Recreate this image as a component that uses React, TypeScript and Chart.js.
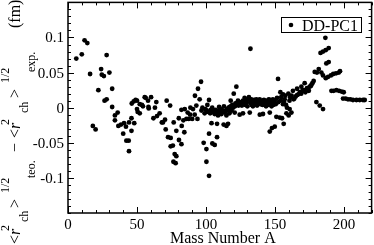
import React, { useEffect, useRef } from "react";
import { Chart, registerables } from "chart.js";

Chart.register(...registerables);

// Mass number A of each nucleus
const massNumber: number[] = [
  6, 10, 12, 14, 16, 18, 20, 22, 24, 24.5, 26, 26.5, 28, 28, 30, 32, 32, 34, 34, 36, 36.5,
  38.4, 40, 40.6, 42, 42.3, 44, 44.2, 44.2, 46, 46, 46.2, 47.6, 48, 49, 50, 50, 50.5, 52, 52, 53.6,
  54.3, 55.6, 56.3, 58, 58.3, 58.5, 60.2,
  61.9, 63, 64, 64.5, 66.4, 68, 68.8, 70.3, 70.8, 71.5, 72.5, 74, 74.4, 74.4, 76, 76.6, 76.4,
  77.3, 78, 78.5, 78.5, 80.3, 80.4, 82.2, 82.2, 82.4, 83.6, 84.3, 84.6, 85.8, 86.7, 87.5, 88.5,
  88.7, 90, 90.6, 91.8, 92, 93, 93.8, 94.2, 95.4, 96.4, 96.7, 97.4, 98.3, 99, 99.5, 100.3, 100.3,
  100.5, 101, 101.5, 102.2, 102.2, 102.2, 103, 103.5, 104, 104.5, 104.6, 105, 105.5, 106.3, 106.3,
  107, 107.5, 108, 108, 108.7, 109, 109.5, 110, 110.5, 111, 111.2, 112, 112.8, 113, 113.6, 114.8,
  114.8, 115, 116, 116, 116.4, 117, 117.2, 117.9, 118.5, 119, 119.6, 120.1, 120.8, 121, 121.6, 122,
  122.5, 123.2, 123.5, 124.4, 124.9, 125.5, 126, 126.8, 126.8, 127.5, 128, 128.5, 129, 129.7, 130,
  130.5, 131.1, 131.7, 132, 132.2, 132.9, 133, 134, 134.1, 135, 135.5, 136, 136.5, 137, 137.7, 138,
  138.9, 139, 139.5, 140, 140.9, 141, 141.3, 142, 142.5, 143, 143.5, 144.2, 144.5, 145, 145.5,
  146.2, 146.2, 146.2, 147, 147.5, 147.8, 148.1, 148.5, 149, 149.8, 149.8, 150.5, 151, 151.5, 152.2,
  152.5, 153.4, 153.9, 153.9, 154.5, 155.1, 155.8, 155.8, 156.3, 156.5, 157, 157.5, 158, 158.3,
  158.7, 159.7, 159.9, 160.5, 160.6, 161, 161.9, 162, 163, 163.5, 164, 165, 166, 166, 167, 168,
  169, 169.1, 170, 171, 171.5, 172, 173.2, 174, 174.5, 175.1, 176, 176.5, 177.1, 178, 178.8, 180,
  180.4, 181.7, 182.4, 183, 183.6, 184.8, 184.8, 184.8, 186.5, 186.7, 186.8, 187.2, 188.5, 188.9,
  188.9, 190.5, 190.9, 192.2, 192.5, 194.2, 194.5, 196.2, 196.4, 197.1, 198.3, 199.3, 199.8, 201.2,
  202.9, 204.6, 206.5, 209, 211.4, 213.8, 215,
  106, 111.5, 114, 118, 121.3, 124, 127, 133.5, 137.5, 141.8, 144, 148.8,
];

// <r^2_ch>^1/2 (theory) - <r^2_ch>^1/2 (experiment), in fm
const deltaRadius: number[] = [
  0.070, 0.076, 0.096, 0.092, 0.048, -0.026, -0.031, 0.025, 0.055, 0.047, 0.045, 0.010, 0.075, 0.012, 0.050, 0.027, 0.001, -0.011, -0.018, -0.007, -0.026,
  -0.024, -0.037, -0.022, -0.027, -0.047, -0.047, -0.062, -0.021, -0.033, -0.015, 0.006, 0.009, -0.022, 0.011, 0.010, -0.002, -0.006, -0.008, 0.005, 0.004,
  0.002, 0.015, 0.014, 0.010, 0.001, -0.001, 0.015,
  -0.015, 0.000, 0.008, -0.012, -0.008, -0.021, -0.021, -0.017, -0.031, 0.010, -0.042, 0.003, -0.043, -0.055, -0.054, -0.021, -0.077,
  -0.066, -0.079, -0.069, -0.033, -0.015, -0.046, -0.052, -0.003, -0.026, -0.018, -0.035, -0.002, -0.016, -0.007, -0.016, -0.010,
  0.000, -0.016, -0.002, -0.010, 0.017, 0.003, -0.016, 0.027, 0.012, 0.037, -0.004, 0.000, -0.050, -0.008, -0.002, -0.059, -0.077,
  -0.004, 0.004, -0.006, -0.097, -0.037, 0.011, -0.008, -0.003, -0.022, 0.000, -0.051, -0.004, -0.007, -0.053, -0.009,
  -0.003, -0.007, -0.023, -0.042, -0.011, -0.005, 0.001, -0.009, -0.002, -0.004, -0.009, -0.006, -0.024, 0.002, -0.007, -0.026,
  -0.011, -0.002, -0.023, -0.004, 0.000, -0.008, 0.001, 0.010, -0.004, 0.004, 0.000, 0.020, -0.007, 0.002, 0.005, 0.030,
  0.007, 0.010, 0.003, -0.010, 0.008, 0.006, 0.003, 0.010, -0.008, 0.009, 0.014, 0.004, 0.007, 0.011, 0.002,
  0.012, 0.015, -0.007, 0.007, 0.084, 0.012, 0.004, 0.002, 0.010, 0.011, 0.005, 0.008, 0.012, 0.003, 0.010, 0.007,
  0.012, -0.010, 0.005, 0.008, 0.010, 0.004, -0.009, 0.011, 0.008, 0.006, 0.002, 0.010, 0.007, 0.004, 0.012,
  0.011, -0.007, -0.034, 0.008, 0.002, -0.029, 0.005, 0.012, 0.007, 0.010, -0.027, 0.005, -0.013, 0.014, 0.041,
  0.008, -0.014, 0.010, 0.022, 0.015, -0.015, 0.005, 0.019, -0.023, 0.009, 0.012, 0.017, 0.004, -0.008,
  0.000, 0.020, -0.011, 0.010, -0.002, 0.015, -0.007, 0.017, 0.024, 0.012, 0.013, 0.016, 0.027, 0.018, 0.019, 0.022,
  0.020, 0.030, 0.025, 0.025, 0.035, 0.022, 0.028, 0.027, 0.024, 0.030, 0.031, 0.033, 0.035, 0.038, 0.051, 0.008,
  0.050, 0.055, 0.003, 0.078, 0.050, 0.080, 0.046, -0.002, 0.0996, 0.082, 0.042, 0.063, 0.044, 0.085,
  0.065, 0.046, 0.024, 0.048, 0.024, 0.049, 0.025, 0.050, 0.024, 0.052, 0.023, 0.013, 0.022, 0.013,
  0.012, 0.012, 0.011, 0.011, 0.011, 0.011, 0.011,
  -0.006, -0.003, -0.005, 0.002, 0.006, 0.004, 0.006, 0.008, 0.005, 0.007, 0.009, 0.004,
];

const xMajorTicks: number[] = [0, 50, 100, 150, 200];
const xTickLabels: string[] = ["0", "50", "100", "150", "200"];
const yMajorTicks: number[] = [-0.1, -0.05, 0, 0.05, 0.1];
const yTickLabels: string[] = ["-0.1", "-0.05", "0", "0.05", "0.1"];
const xMinorStep = 10;
const yMinorStep = 0.01;
const xRange: number[] = [0, 220];
const yRange: number[] = [-0.15, 0.15];
const seriesLabel = "DD-PC1";
const xTitle = "Mass Number A";

const SERIF = '"Liberation Serif", "Times New Roman", serif';

const framePlugin = {
  id: "framePlugin",
  afterDraw(chart: any) {
    const ctx: CanvasRenderingContext2D = chart.ctx;
    const { left, right, top, bottom } = chart.chartArea;
    const xs = chart.scales.x;
    const ys = chart.scales.y;
    ctx.save();
    ctx.strokeStyle = "#000";
    ctx.fillStyle = "#000";
    ctx.lineWidth = 1.5;
    ctx.strokeRect(left, top, right - left, bottom - top);

    ctx.lineWidth = 1;
    ctx.beginPath();
    const nx = Math.round((xRange[1] - xRange[0]) / xMinorStep);
    for (let i = 0; i <= nx; i++) {
      const v = xRange[0] + i * xMinorStep;
      const major = xMajorTicks.some((m) => Math.abs(m - v) < 1e-9);
      const len = major ? 6 : 3;
      const px = Math.round(xs.getPixelForValue(v)) + 0.5;
      ctx.moveTo(px, bottom);
      ctx.lineTo(px, bottom - len);
      ctx.moveTo(px, top);
      ctx.lineTo(px, top + len);
    }
    const ny = Math.round((yRange[1] - yRange[0]) / yMinorStep);
    for (let i = 0; i <= ny; i++) {
      const v = yRange[0] + i * yMinorStep;
      const major = yMajorTicks.some((m) => Math.abs(m - v) < 1e-9);
      const len = major ? 6 : 3;
      const py = Math.round(ys.getPixelForValue(v)) + 0.5;
      ctx.moveTo(left, py);
      ctx.lineTo(left + len, py);
      ctx.moveTo(right, py);
      ctx.lineTo(right - len, py);
    }
    ctx.stroke();

    // tick labels
    ctx.font = `15px ${SERIF}`;
    ctx.textAlign = "center";
    ctx.textBaseline = "alphabetic";
    xMajorTicks.forEach((v, i) => {
      ctx.fillText(xTickLabels[i], xs.getPixelForValue(v), 229);
    });
    ctx.textAlign = "right";
    ctx.textBaseline = "middle";
    yMajorTicks.forEach((v, i) => {
      ctx.fillText(yTickLabels[i], 64, ys.getPixelForValue(v) + 1);
    });

    // x title
    ctx.font = `16px ${SERIF}`;
    ctx.textAlign = "center";
    ctx.textBaseline = "alphabetic";
    ctx.fillText(xTitle, (left + right) / 2 + 3, 243);

    // y title (rotated)
    const main = `16px ${SERIF}`;
    const ital = `italic 16px ${SERIF}`;
    const small = `12px ${SERIF}`;
    const pieces: { t: string; f: string; sy: number; sx: number }[] = [
      { t: "<", f: main, sy: 244, sx: 20 },
      { t: "r", f: ital, sy: 235, sx: 20 },
      { t: "2", f: small, sy: 231, sx: 9 },
      { t: "ch", f: small, sy: 222, sx: 28 },
      { t: ">", f: main, sy: 208, sx: 20 },
      { t: "1/2", f: small, sy: 193, sx: 9 },
      { t: "teo.", f: small, sy: 178, sx: 35 },
      { t: "\u2212", f: main, sy: 152, sx: 20 },
      { t: "<", f: main, sy: 138, sx: 20 },
      { t: "r", f: ital, sy: 129, sx: 20 },
      { t: "2", f: small, sy: 125, sx: 9 },
      { t: "ch", f: small, sy: 113, sx: 28 },
      { t: ">", f: main, sy: 98, sx: 20 },
      { t: "1/2", f: small, sy: 83, sx: 9 },
      { t: "exp.", f: small, sy: 72, sx: 35 },
      { t: "(fm)", f: main, sy: 28, sx: 20 },
    ];
    ctx.save();
    ctx.rotate(-Math.PI / 2);
    ctx.textAlign = "left";
    ctx.textBaseline = "alphabetic";
    pieces.forEach((p) => {
      ctx.font = p.f;
      ctx.fillText(p.t, -p.sy, p.sx);
    });
    ctx.restore();

    // legend
    ctx.lineWidth = 1;
    ctx.strokeRect(281.5, 17.5, 80, 15);
    ctx.beginPath();
    ctx.arc(291, 25, 2.3, 0, Math.PI * 2);
    ctx.fill();
    ctx.font = `16px ${SERIF}`;
    ctx.textAlign = "left";
    ctx.textBaseline = "alphabetic";
    ctx.fillText(seriesLabel, 302, 31);
    ctx.restore();
  },
};

export default function App() {
  const ref = useRef<HTMLCanvasElement | null>(null);
  useEffect(() => {
    document.body.style.margin = "0";
    const canvas = ref.current;
    if (!canvas) return;
    const points = massNumber.map((a, i) => ({ x: a, y: deltaRadius[i] }));
    const chart = new Chart(canvas, {
      type: "scatter",
      data: {
        datasets: [
          {
            label: seriesLabel,
            data: points,
            backgroundColor: "#000",
            borderColor: "#000",
            borderWidth: 0,
            pointRadius: 2.4,
            pointHoverRadius: 2.4,
          },
        ],
      },
      options: {
        responsive: false,
        animation: false,
        devicePixelRatio: 1,
        layout: { padding: { left: 68, top: 2, right: 2, bottom: 32 } },
        plugins: { legend: { display: false }, tooltip: { enabled: false } },
        scales: {
          x: { type: "linear", min: xRange[0], max: xRange[1], display: false },
          y: { type: "linear", min: yRange[0], max: yRange[1], display: false },
        },
      },
      plugins: [framePlugin],
    });
    return () => chart.destroy();
  }, []);
  return (
    <div style={{ width: 374, height: 245, background: "#fff" }}>
      <canvas ref={ref} width={374} height={245} style={{ display: "block" }} />
    </div>
  );
}
